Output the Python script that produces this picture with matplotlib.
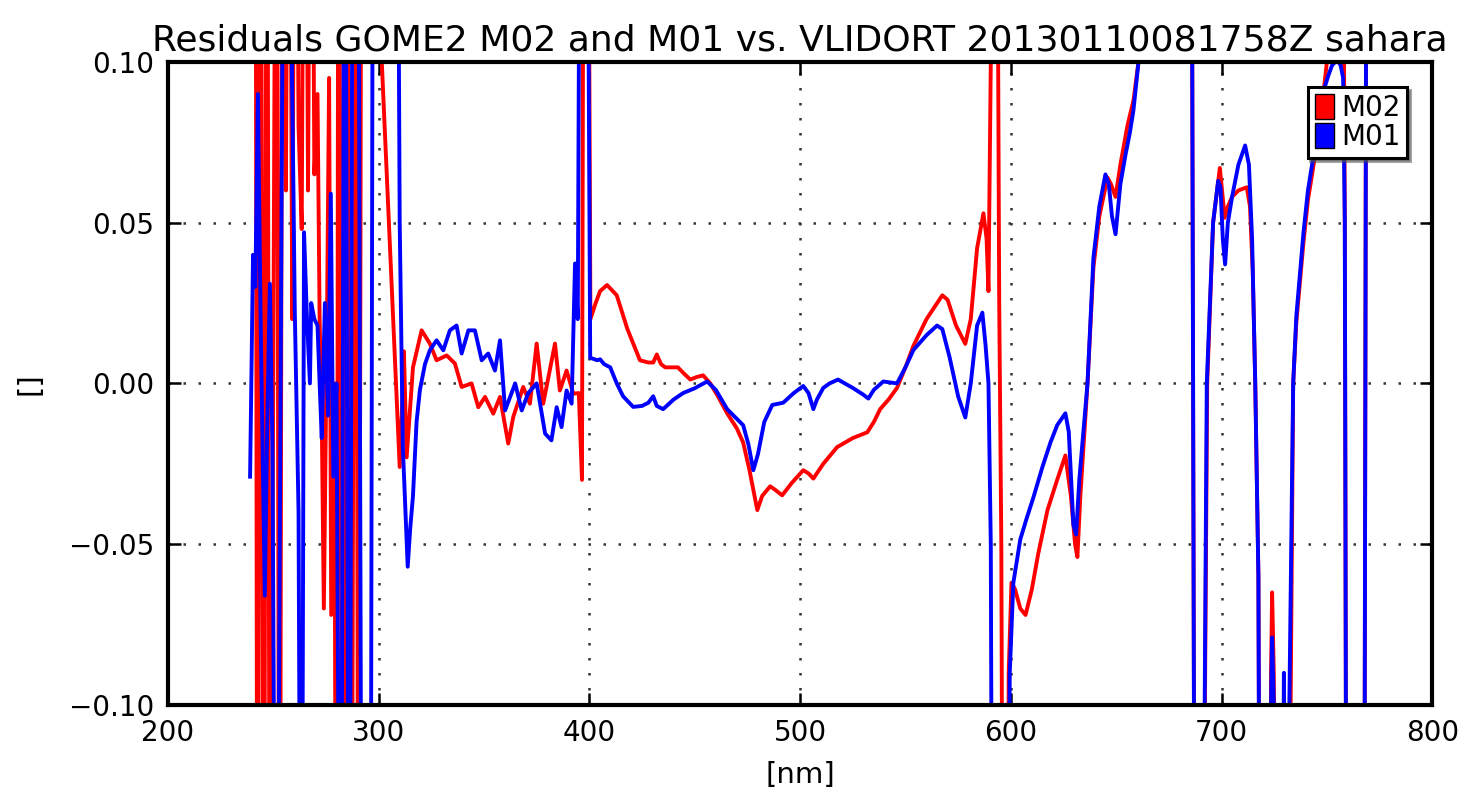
import matplotlib
matplotlib.use("Agg")
import matplotlib.pyplot as plt
from matplotlib.patches import Patch

# wavelengths [nm] and residuals, values outside +-0.1 are clipped by the axes
wl_m02 = [241.5, 242.5, 244.0, 245.5, 247.0, 248.5, 250.0, 251.5, 253.0, 254.5,
          256.0, 257.5, 259.0, 260.5, 262.0, 263.5, 265.0, 266.5, 268.0, 269.5,
          271.0, 272.0, 273.0, 274.0, 275.5, 276.5, 277.5, 279.0, 280.0, 281.0,
          283.0, 285.0, 287.0, 289.0, 290.5, 292.0, 301.0, 301.5, 310.0, 311.0,
          312.0, 313.3, 316.3, 320.4, 324.3, 327.5, 332.3, 336.2, 339.4, 344.1,
          347.3, 350.5, 354.4, 357.6, 361.5, 363.9, 368.6, 371.8, 375.0, 378.1,
          383.7, 386.0, 389.2, 392.4, 395.0, 396.5, 397.5, 399.0, 400.5, 403.0,
          405.1, 408.4, 413.0, 418.0, 424.0, 428.0, 430.3, 432.0, 434.0, 436.0,
          442.0, 445.0, 447.9, 451.0, 454.0, 457.4, 461.0, 465.4, 470.0, 473.0,
          476.0, 479.7, 482.0, 485.8, 488.0, 491.5, 496.0, 501.5, 504.0, 506.3,
          511.0, 517.6, 525.0, 531.9, 535.0, 538.0, 542.0, 546.0, 550.0, 553.8,
          560.0, 567.5, 570.0, 574.0, 578.4, 581.0, 584.0, 587.0, 588.5, 589.4,
          590.5, 591.5, 593.0, 594.5, 595.5, 596.5, 598.0, 599.0, 600.3, 602.0,
          604.5, 607.0, 610.0, 613.0, 617.4, 622.0, 625.9, 628.5, 630.5, 631.6,
          633.0, 636.4, 639.2, 642.0, 645.9, 647.5, 649.7, 652.0, 655.3, 658.2,
          660.6, 662.0, 685.5, 687.5, 690.5, 693.2, 696.0, 699.2, 701.5, 703.0,
          705.0, 708.0, 712.0, 713.5, 714.8, 716.0, 717.5, 718.5, 722.5, 723.5,
          724.0, 724.8, 726.0, 731.0, 734.0, 735.5, 738.9, 741.0, 743.7, 746.0,
          748.0, 750.0, 752.0, 757.0, 758.5, 759.5, 767.5, 769.0, 772.0]
res_m02 = [0.25, -0.25, 0.25, -0.25, 0.25, -0.25, 0.0, 0.25, -0.25, 0.25,
           0.06, 0.25, 0.02, 0.25, 0.08, 0.048, 0.25, 0.06, 0.25, 0.065,
           0.09, 0.02, -0.01, -0.07, 0.02, 0.095, -0.072, 0.0, -0.25, 0.25,
           -0.25, 0.25, -0.25, 0.25, -0.25, 0.25, 0.25, 0.1, -0.026, -0.01,
           0.01, -0.023, 0.005, 0.0165, 0.0124, 0.0072, 0.0087, 0.0062, -0.0011, 0.0,
           -0.0074, -0.0042, -0.0094, -0.0042, -0.0187, -0.0104, -0.0011, -0.0063, 0.0124, -0.0063,
           0.0124, -0.0022, 0.004, -0.0032, -0.003, -0.03, 0.25, 0.25, 0.02, 0.025,
           0.0287, 0.0306, 0.0274, 0.017, 0.0072, 0.0065, 0.0065, 0.009, 0.006, 0.005,
           0.005, 0.003, 0.0012, 0.002, 0.0025, 0.0, -0.004, -0.0093, -0.014, -0.0184,
           -0.027, -0.0394, -0.035, -0.032, -0.033, -0.0348, -0.031, -0.027, -0.028, -0.0296,
           -0.025, -0.0198, -0.017, -0.0152, -0.012, -0.008, -0.005, -0.0014, 0.005, 0.0117,
           0.02, 0.0274, 0.026, 0.018, 0.0123, 0.02, 0.042, 0.0529, 0.045, 0.0287,
           0.1, 0.25, 0.25, 0.025, -0.05, -0.25, -0.25, -0.09, -0.062, -0.064,
           -0.07, -0.072, -0.064, -0.053, -0.0394, -0.03, -0.0224, -0.035, -0.05, -0.054,
           -0.035, 0.0, 0.036, 0.052, 0.064, 0.062, 0.058, 0.068, 0.08, 0.088,
           0.1, 0.25, 0.25, -0.25, -0.25, 0.0, 0.05, 0.067, 0.0515, 0.055,
           0.058, 0.06, 0.061, 0.055, 0.035, 0.0, -0.06, -0.25, -0.25, -0.09,
           -0.065, -0.09, -0.25, -0.25, 0.0, 0.019, 0.044, 0.057, 0.068, 0.08,
           0.088, 0.1, 0.25, 0.25, 0.05, -0.25, -0.25, 0.25, 0.25]

wl_m01 = [239.0, 239.6, 240.4, 241.5, 242.7, 244.0, 246.0, 247.2, 248.4, 249.6,
          251.5, 253.5, 255.5, 257.5, 258.9, 259.6, 260.2, 262.0, 263.3, 264.6,
          266.0, 267.4, 268.0, 269.5, 271.0, 272.0, 273.0, 274.5, 276.0, 277.3,
          278.5, 280.0, 282.0, 284.0, 286.0, 288.0, 290.0, 292.0, 294.0, 296.0,
          297.5, 308.5, 310.0, 311.5, 313.8, 315.0, 316.3, 318.0, 319.6, 322.0,
          324.3, 327.5, 330.7, 333.8, 337.0, 339.4, 342.6, 345.7, 348.9, 352.0,
          355.2, 357.6, 360.0, 364.8, 367.9, 371.0, 375.0, 379.0, 382.0, 384.5,
          386.8, 389.2, 391.6, 393.2, 394.5, 396.0, 398.5, 400.4, 403.7, 405.1,
          407.0, 409.9, 413.0, 416.0, 420.8, 425.0, 428.0, 430.3, 432.0, 435.0,
          440.0, 444.5, 450.0, 455.9, 460.0, 465.4, 470.0, 473.0, 475.5, 477.8,
          480.0, 483.0, 486.8, 492.0, 497.0, 501.5, 504.0, 506.3, 508.0, 511.0,
          514.0, 518.0, 525.0, 530.0, 532.4, 535.0, 539.5, 546.0, 550.0, 553.8,
          560.0, 565.0, 567.5, 571.0, 575.0, 578.4, 581.0, 584.0, 586.5, 588.0,
          589.4, 590.5, 591.5, 598.0, 599.5, 601.2, 604.5, 607.5, 610.7, 615.0,
          618.8, 622.0, 625.9, 627.5, 629.7, 631.0, 632.5, 636.4, 639.2, 642.0,
          644.9, 646.5, 648.0, 649.7, 652.0, 654.4, 656.5, 658.2, 660.6, 662.0,
          685.5, 687.5, 690.5, 693.0, 696.0, 698.4, 699.5, 700.6, 701.7, 703.0,
          705.0, 708.0, 711.2, 713.0, 714.5, 716.0, 717.5, 718.5, 722.5, 723.5,
          724.0, 724.8, 726.0, 728.0, 729.6, 730.5, 732.0, 734.0, 735.5, 738.9,
          741.0, 743.7, 746.0, 748.0, 750.6, 752.5, 754.8, 756.5, 757.7, 758.5,
          759.5, 767.5, 769.0, 772.0]
res_m01 = [-0.029, 0.0, 0.04, 0.03, 0.09, 0.02, -0.066, -0.01, 0.031, -0.02,
           -0.25, 0.0, 0.25, 0.25, 0.094, 0.059, 0.023, -0.04, -0.25, 0.047,
           0.02, 0.0, 0.025, 0.02, 0.018, 0.0, -0.017, 0.025, -0.01, 0.059,
           -0.029, 0.0, -0.25, 0.25, -0.25, 0.25, 0.25, -0.2, -0.25, -0.25,
           0.25, 0.25, 0.05, -0.02, -0.057, -0.045, -0.035, -0.012, -0.002, 0.006,
           0.0103, 0.0134, 0.0103, 0.0165, 0.018, 0.0093, 0.0165, 0.0165, 0.0072, 0.0093,
           0.004, 0.0134, -0.0084, 0.0, -0.0084, -0.003, 0.0, -0.0156, -0.0177, -0.0074,
           -0.0136, -0.0022, -0.0063, 0.0373, 0.02, 0.25, 0.25, 0.008, 0.0072, 0.0075,
           0.006, 0.005, 0.0, -0.004, -0.0073, -0.007, -0.006, -0.004, -0.007, -0.008,
           -0.005, -0.003, -0.0015, 0.0006, -0.002, -0.008, -0.011, -0.013, -0.019, -0.027,
           -0.022, -0.012, -0.0067, -0.006, -0.003, -0.0008, -0.003, -0.008, -0.005, -0.0014,
           0.0, 0.0012, -0.0014, -0.0035, -0.0047, -0.002, 0.0006, 0.0, 0.005, 0.0104,
           0.015, 0.018, 0.0169, 0.008, -0.004, -0.0106, 0.0, 0.018, 0.022, 0.012,
           0.0, -0.05, -0.25, -0.25, -0.09, -0.062, -0.0485, -0.042, -0.0355, -0.026,
           -0.0184, -0.013, -0.0093, -0.015, -0.044, -0.047, -0.03, 0.0, 0.039, 0.055,
           0.065, 0.062, 0.052, 0.0464, 0.062, 0.071, 0.078, 0.085, 0.1, 0.25,
           0.25, -0.25, -0.25, 0.0, 0.05, 0.063, 0.061, 0.045, 0.037, 0.05,
           0.058, 0.068, 0.074, 0.068, 0.045, 0.0, -0.06, -0.25, -0.25, -0.1,
           -0.079, -0.1, -0.25, -0.25, -0.09, -0.25, -0.11, 0.0, 0.021, 0.047,
           0.06, 0.071, 0.082, 0.09, 0.0956, 0.099, 0.1005, 0.099, 0.095, 0.05,
           -0.25, -0.25, 0.25, 0.25]

x_ticks = [200, 300, 400, 500, 600, 700, 800]
y_ticks = [-0.10, -0.05, 0.00, 0.05, 0.10]

fig = plt.figure(figsize=(14.6, 7.93), dpi=100, facecolor="white")
ax = fig.add_axes([0.115, 0.111, 0.866, 0.811])

ax.plot(wl_m02, res_m02, color="#ff0000", lw=2.8)
ax.plot(wl_m01, res_m01, color="#0000ff", lw=2.8)

ax.set_xlim(200, 800)
ax.set_ylim(-0.1, 0.1)
ax.set_xticks(x_ticks)
ax.set_yticks(y_ticks)
ax.set_yticklabels(["\u22120.10", "\u22120.05", "0.00", "0.05", "0.10"])
ax.tick_params(direction="in", length=9, width=1.8, top=True, right=True,
               labelsize=20, pad=10)
ax.grid(True, color="#333333", linestyle=(0, (1, 5)), linewidth=1.8)
for sp in ax.spines.values():
    sp.set_linewidth(3)

ax.set_title("Residuals GOME2 M02 and M01 vs. VLIDORT 20130110081758Z sahara",
             fontsize=26, pad=8)
ax.set_xlabel("[nm]", fontsize=21, labelpad=10)
ax.set_ylabel("[]", fontsize=21, labelpad=18)

handles = [Patch(facecolor="#ff0000", edgecolor="black", label="M02"),
           Patch(facecolor="#0000ff", edgecolor="black", label="M01")]
leg = ax.legend(handles=handles, loc="upper right", fontsize=20, shadow=True,
                fancybox=False, handlelength=0.7, handleheight=1.0,
                handletextpad=0.25, borderpad=0.25, labelspacing=0.05,
                borderaxespad=0.9)
leg.get_frame().set_edgecolor("black")
leg.get_frame().set_linewidth(2.2)

fig.savefig("out.png", dpi=100, facecolor="white")
